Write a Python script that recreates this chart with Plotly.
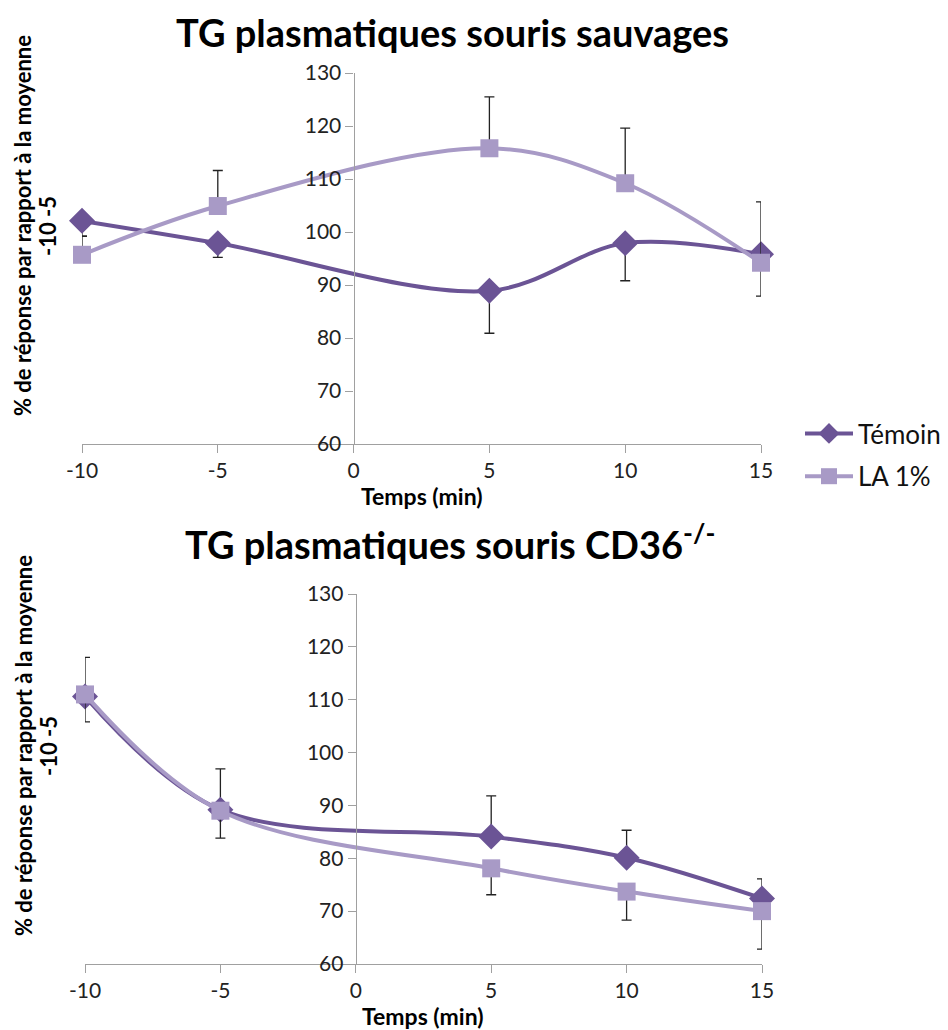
import plotly.graph_objects as go

# ---- data ----
temps = [-10, -5, 5, 10, 15]

# Top chart: souris sauvages
wt_temoin = [102.1, 97.9, 88.9, 97.9, 95.8]
wt_temoin_err_minus = [2.9, 2.7, 8.0, 7.1, 7.9]
wt_la = [95.7, 104.9, 115.8, 109.2, 94.2]
wt_la_err_plus = [3.5, 6.7, 9.7, 10.4, 11.5]

# Bottom chart: souris CD36-/-
ko_temoin = [110.6, 89.2, 84.1, 80.1, 72.4]
ko_temoin_err_plus = [7.4, 7.7, 7.7, 5.2, 3.7]
ko_la = [111.0, 89.0, 78.1, 73.7, 70.0]
ko_la_err_minus = [5.2, 5.2, 5.0, 5.4, 7.2]

x_ticks = [-10, -5, 0, 5, 10, 15]
x_ticktext = ["-10", "-5", "0", "5", "10", "15"]
y_ticks = [60, 70, 80, 90, 100, 110, 120, 130]

series_names = ["Témoin", "LA 1%"]
titles = ["TG plasmatiques souris sauvages", "TG plasmatiques souris CD36<sup>-/-</sup>"]
y_title_lines = ["% de réponse par rapport à la moyenne", "-10 -5"]
x_title = "Temps (min)"

# ---- style ----
C_DARK = "#6B5495"
C_LIGHT = "#A89AC6"
FONT = "Lato"
OFF = 8                      # page body margin in the browser
W, H = 948 - OFF, 1030 - OFF  # figure size that fits in the window

fig = go.Figure()

def add_pair(xa, ya, temoin, t_plus, t_minus, la, l_plus, l_minus, show):
    fig.add_trace(go.Scatter(
        x=temps, y=temoin, name=series_names[0], mode="lines+markers",
        line=dict(color=C_DARK, width=4, shape="spline", smoothing=1),
        marker=dict(symbol="diamond", size=20, color=C_DARK),
        error_y=dict(type="data", symmetric=False, array=t_plus, arrayminus=t_minus,
                     color="#222", thickness=1.3, width=5),
        xaxis=xa, yaxis=ya, showlegend=show, legendgroup="a", cliponaxis=False))
    fig.add_trace(go.Scatter(
        x=temps, y=la, name=series_names[1], mode="lines+markers",
        line=dict(color=C_LIGHT, width=4, shape="spline", smoothing=1),
        marker=dict(symbol="square", size=18, color=C_LIGHT),
        error_y=dict(type="data", symmetric=False, array=l_plus, arrayminus=l_minus,
                     color="#222", thickness=1.3, width=5),
        xaxis=xa, yaxis=ya, showlegend=show, legendgroup="b", cliponaxis=False))

zeros = [0] * len(temps)
add_pair("x", "y", wt_temoin, zeros, wt_temoin_err_minus, wt_la, wt_la_err_plus, zeros, True)
add_pair("x2", "y2", ko_temoin, ko_temoin_err_plus, zeros, ko_la, zeros, ko_la_err_minus, False)

def px_x(p):
    return (p - OFF) / W

def px_y(p):
    return 1 - (p - OFF) / H

dom_top_x = [px_x(82), px_x(761)]
dom_bot_x = [px_x(85), px_x(762)]
dom_top_y = [px_y(444), px_y(73)]
dom_bot_y = [px_y(964), px_y(594)]

def yaxis_pos(dom):
    return dom[0] + (0 - x_ticks[0]) / (x_ticks[-1] - x_ticks[0]) * (dom[1] - dom[0])

tickfont = dict(family=FONT, size=21, color="#222")
axcol = "#A0A0A0"

xcommon = dict(range=[-10, 15], tickvals=x_ticks, ticktext=x_ticktext, showgrid=False,
               zeroline=False, showline=True, linecolor=axcol, linewidth=1.3,
               ticks="outside", ticklen=8, tickcolor=axcol, tickfont=tickfont,
               automargin=False)
ycommon = dict(range=[60, 130], tickvals=y_ticks, showgrid=False, zeroline=False,
               showline=True, linecolor=axcol, linewidth=1.3, ticks="outside",
               ticklen=8, tickcolor=axcol, tickfont=tickfont, anchor="free",
               automargin=False)

fig.update_layout(
    width=W, height=H,
    margin=dict(l=0, r=0, t=0, b=0, pad=0, autoexpand=False),
    plot_bgcolor="white", paper_bgcolor="white",
    xaxis=dict(domain=dom_top_x, anchor="y", **xcommon),
    yaxis=dict(domain=dom_top_y, position=yaxis_pos(dom_top_x), **ycommon),
    xaxis2=dict(domain=dom_bot_x, anchor="y2", **xcommon),
    yaxis2=dict(domain=dom_bot_y, position=yaxis_pos(dom_bot_x), **ycommon),
    legend=dict(x=px_x(800), y=px_y(455), xanchor="left", yanchor="middle",
                font=dict(family=FONT, size=26, color="#111"), itemwidth=48,
                tracegroupgap=6, bgcolor="rgba(0,0,0,0)"),
    showlegend=True,
)

ann = []
for t, cx, cy in [(titles[0], 452, 8), (titles[1], 450, 516)]:
    ann.append(dict(text=t, x=px_x(cx), y=px_y(cy), xref="paper", yref="paper",
                    xanchor="center", yanchor="top", showarrow=False, borderpad=0,
                    font=dict(family=FONT, size=38, color="#000", weight="bold")))
for cy in [226, 746]:
    for line, cx in zip(y_title_lines, [23, 48]):
        ann.append(dict(text=line, x=px_x(cx), y=px_y(cy), xref="paper", yref="paper",
                        xanchor="center", yanchor="middle", showarrow=False,
                        textangle=-90, borderpad=0,
                        font=dict(family=FONT, size=22, color="#000", weight="bold")))
for cx, cy in [(422, 496), (423, 1016)]:
    ann.append(dict(text=x_title, x=px_x(cx), y=px_y(cy), xref="paper", yref="paper",
                    xanchor="center", yanchor="middle", showarrow=False,
                    font=dict(family=FONT, size=23, color="#000", weight="bold")))
fig.update_layout(annotations=ann)

fig.write_html("out.html")
